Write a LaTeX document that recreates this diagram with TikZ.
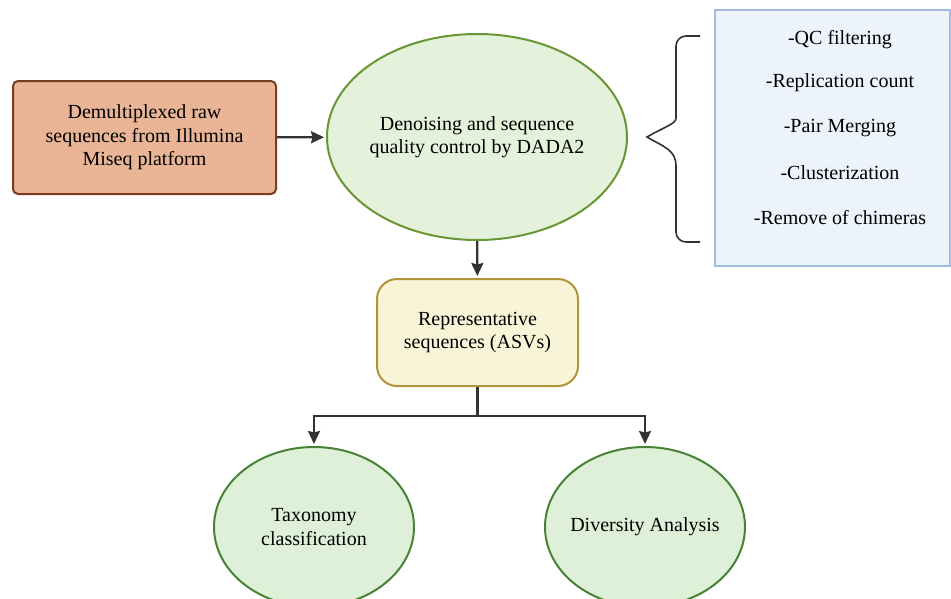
\documentclass[tikz,border=0pt]{standalone}
\usepackage{fontspec}
\setmainfont{Liberation Serif}
\usetikzlibrary{arrows.meta,shapes.geometric}
\definecolor{rawfill}{RGB}{233,181,150}
\definecolor{rawdraw}{RGB}{122,60,32}
\definecolor{dadafill}{RGB}{229,242,219}
\definecolor{dadadraw}{RGB}{104,150,52}
\definecolor{asvfill}{RGB}{248,244,215}
\definecolor{asvdraw}{RGB}{178,148,58}
\definecolor{endfill}{RGB}{223,240,216}
\definecolor{enddraw}{RGB}{72,130,52}
\definecolor{listfill}{RGB}{237,243,251}
\definecolor{listdraw}{RGB}{163,187,224}
\definecolor{linkcol}{RGB}{51,51,51}
\tikzset{
    %Define standard arrow tip
    >={Stealth[length=13pt,width=12pt,inset=1.5pt]},
    %Define style for boxes
    inbox/.style={
           rectangle,
           rounded corners=5pt,
           draw=rawdraw, line width=2pt,
           fill=rawfill,
           minimum width=263pt,
           minimum height=113pt,
           align=center,
           text centered},
     stage/.style={
           ellipse,
           draw=dadadraw, line width=2pt,
           fill=dadafill,
           inner sep=-25pt,
           align=center},
     outcome/.style={
           stage,
           draw=enddraw,
           fill=endfill,
           minimum width=200pt,
           minimum height=160pt},
     result/.style={
           rectangle,
           rounded corners=20pt,
           draw=asvdraw, line width=2pt,
           fill=asvfill,
           minimum width=201pt,
           minimum height=107pt,
           align=center},
     listbox/.style={
           rectangle,
           draw=listdraw, line width=1.5pt,
           fill=listfill,
           minimum width=235pt,
           minimum height=256pt},
    % Define arrow style
    link/.style={
           draw=linkcol,
           line width=2.2pt,
           shorten >=2pt}
}

\begin{document}
\begin{tikzpicture}[x=1pt,y=-1pt,font=\fontsize{20}{23.5}\selectfont]
\useasboundingbox (0,0) rectangle (951,598);

 %nodes
\node[inbox](raw) at (144.5,137.5){Demultiplexed raw\\sequences from Illumina\\Miseq platform};
\node[stage, minimum width=300pt, minimum height=206pt](dada) at (477,137){Denoising and sequence\\quality control by DADA2};
\node[listbox](steps) at (832.5,138){};
\node[result](asv) at (477.5,332.5){Representative\\sequences (ASVs)};
\node[outcome](tax) at (314,527){Taxonomy\\classification};
\node[outcome](div) at (645,527){Diversity Analysis};

 %list of DADA2 steps
\foreach \y/\txt in {40/-QC filtering, 83/-Replication count, 128/-Pair Merging,
                     173/-Clusterization, 218/-Remove of chimeras}
    \node(step\y) at (840,\y){\txt};

 %brace
\draw[linkcol, line width=1.6pt]
    (700,36) [rounded corners=10pt] -- (676,36) -- (676,108) [sharp corners]
    .. controls (676,124) and (664,127) .. (647,137)
    .. controls (664,147) and (676,150) .. (676,166)
    [rounded corners=10pt] -- (676,242) -- (700,242);

 %connectors
\coordinate (split) at (477.5,416);
\draw[link,->] (raw) -- (dada);
\draw[link,->] (dada) -- (asv);
\draw[link, shorten >=0pt] (asv) -- (split);
\draw[link,->] (split) -| (tax);
\draw[link,->] (split) -| (div);

\end{tikzpicture}
\end{document}
